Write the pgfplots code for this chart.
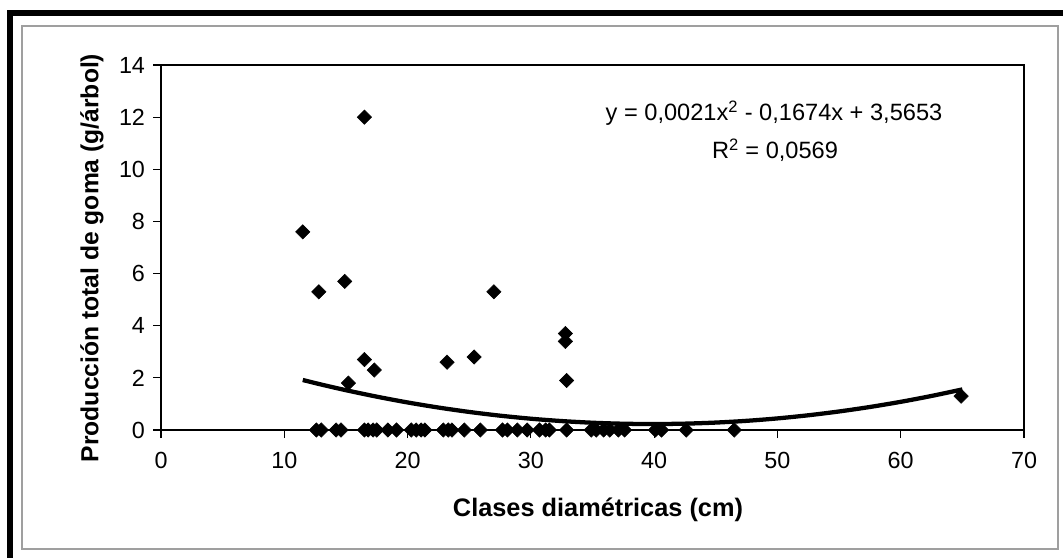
\documentclass[border=0pt]{standalone}
\usepackage{pgfplots}
\pgfplotsset{compat=1.18}
\usepackage{fontspec}
\setmainfont{Liberation Sans}
\begin{document}
\begin{tikzpicture}[x=0.75pt,y=0.75pt]
\useasboundingbox (0,0) rectangle (1063,558);
% frames
\fill[black] (7,541.5) rectangle (1063,547.5);
\fill[black] (6.7,0) rectangle (12.7,547.5);
\draw[gray!75, line width=1.1pt] (22,9) rectangle (1058,532);
\begin{axis}[
  at={(120.75pt,96pt)}, anchor=south west,
  scale only axis, width=647.25pt, height=273.75pt,
  xmin=0, xmax=70, ymin=0, ymax=14,
  xtick={0,10,...,70}, ytick={0,2,...,14},
  xtick pos=left, ytick pos=left,
  tick align=outside, major tick length=6pt,
  tick style={black, line width=0.8pt},
  axis line style={line width=2.2pt},
  /pgf/number format/assume math mode=true,
  ticklabel style={font=\fontsize{17.5}{20}\selectfont},
  xticklabel style={yshift=-7pt},
  yticklabel style={xshift=-2.5pt},
  clip=false,
]
\addplot[only marks, mark=square*, mark size=3.8pt, mark options={rotate=45, fill=black, draw=black}] coordinates {
(11.5,7.6) (12.8,5.3) (14.9,5.7) (16.5,12.0) (15.2,1.8) (16.5,2.7) (17.3,2.3)
(23.2,2.6) (25.4,2.8) (27.0,5.3) (32.8,3.7) (32.8,3.4) (32.9,1.9) (64.9,1.3)
(12.6,0) (13.0,0) (14.2,0) (14.6,0) (16.5,0) (16.8,0) (17.2,0) (17.5,0)
(18.4,0) (19.1,0) (20.3,0) (20.7,0) (21.1,0) (21.4,0) (22.9,0) (23.3,0)
(23.6,0) (24.6,0) (25.9,0) (27.7,0) (28.1,0) (28.9,0) (29.7,0) (30.7,0)
(31.2,0) (31.5,0) (32.9,0) (34.9,0) (35.3,0) (35.9,0) (36.4,0) (37.1,0)
(37.6,0) (40.1,0) (40.6,0) (42.6,0) (46.5,0)
};
\addplot[black, line width=3.2pt, smooth, no marks] coordinates {
(11.5,1.918) (13,1.744) (15,1.527) (17.5,1.279) (20,1.057) (22.5,0.862)
(25,0.693) (27.5,0.550) (30,0.433) (32.5,0.343) (35,0.279) (37.5,0.241)
(40,0.229) (42.5,0.244) (45,0.285) (47.5,0.352) (50,0.445) (52.5,0.565)
(55,0.711) (57.5,0.883) (60,1.081) (62.5,1.306) (65,1.557)
};
\end{axis}
\node[font=\fontsize{17.7}{20}\selectfont] at (774,445) {y = 0,0021x\textsuperscript{2} - 0,1674x + 3,5653};
\node[font=\fontsize{17.7}{20}\selectfont] at (775,408) {R\textsuperscript{2} = 0,0569};
\node[font=\bfseries\fontsize{18.5}{21}\selectfont, rotate=90] at (92,300) {Producción total de goma (g/árbol)};
\node[font=\bfseries\fontsize{19}{22}\selectfont] at (598,48) {Clases diamétricas (cm)};
\end{tikzpicture}
\end{document}
